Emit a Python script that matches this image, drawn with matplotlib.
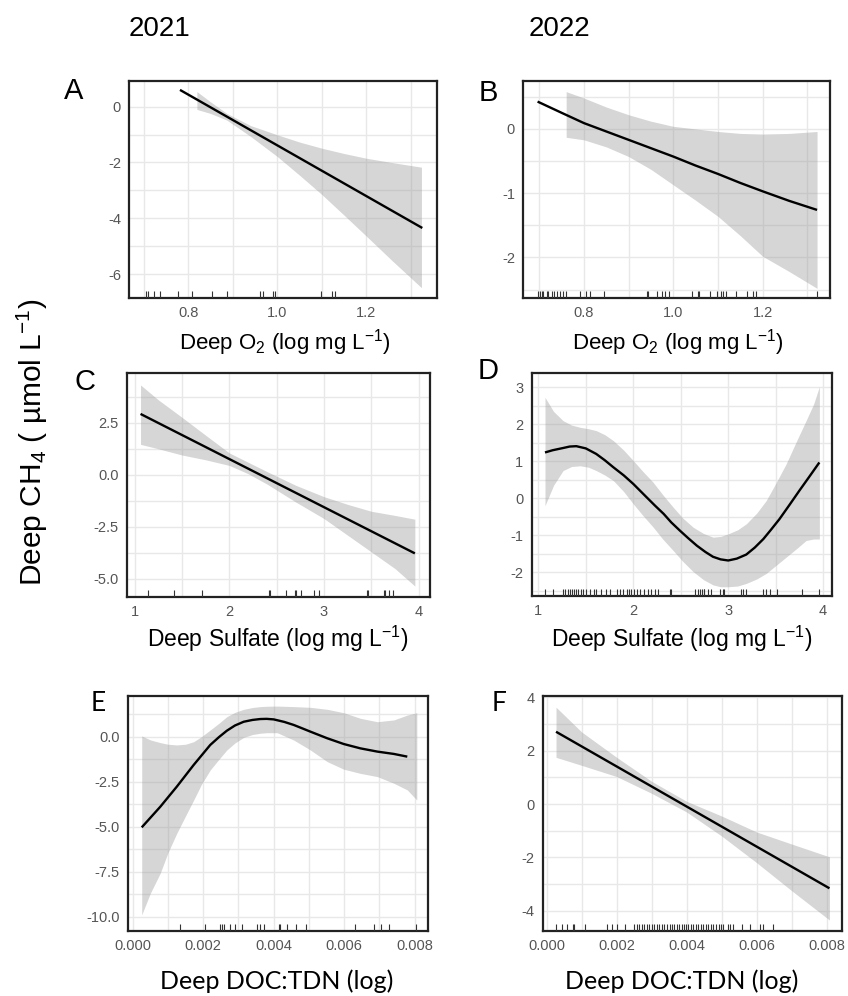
import matplotlib
matplotlib.use("Agg")
import matplotlib.pyplot as plt

plt.rcParams['font.family'] = ['Liberation Sans', 'DejaVu Sans']
plt.rcParams['mathtext.fontset'] = 'custom'
plt.rcParams['mathtext.rm'] = 'Liberation Sans'
plt.rcParams['mathtext.it'] = 'Liberation Sans:italic'

# ---- Panel A: 2021, Deep O2 ----
a_line_x = [0.781, 1.326]
a_line_y = [0.60, -4.35]
a_band_x = [0.819, 0.849, 0.886, 0.94, 1.0, 1.05, 1.1, 1.15, 1.2, 1.26, 1.324]
a_band_hi = [0.54, 0.18, -0.24, -0.68, -1.01, -1.27, -1.49, -1.68, -1.85, -2.01, -2.17]
a_band_lo = [-0.10, -0.24, -0.48, -1.07, -1.79, -2.46, -3.15, -3.89, -4.64, -5.55, -6.49]
a_rug = [0.705, 0.708, 0.723, 0.736, 0.776, 0.808, 0.853, 0.886, 0.960, 0.967,
         0.991, 0.995, 1.097, 1.122, 1.130]

# ---- Panel B: 2022, Deep O2 ----
b_line_x = [0.696, 0.75, 0.8, 0.85, 0.9, 0.95, 1.0, 1.05, 1.1, 1.15, 1.2, 1.26, 1.322]
b_line_y = [0.425, 0.25, 0.09, -0.04, -0.17, -0.30, -0.43, -0.57, -0.70, -0.84,
            -0.97, -1.12, -1.26]
b_band_x = [0.760, 0.8, 0.85, 0.9, 0.95, 1.0, 1.05, 1.1, 1.15, 1.2, 1.26, 1.322]
b_band_hi = [0.58, 0.48, 0.34, 0.22, 0.12, 0.04, 0.0, -0.04, -0.07, -0.08, -0.07, -0.04]
b_band_lo = [-0.13, -0.17, -0.28, -0.43, -0.63, -0.87, -1.11, -1.36, -1.66, -1.98,
             -2.22, -2.48]
b_rug = [0.698, 0.701, 0.705, 0.709, 0.716, 0.720, 0.728, 0.733, 0.739, 0.746,
         0.754, 0.760, 0.790, 0.804, 0.813, 0.845, 0.942, 0.944, 0.963, 0.974,
         0.981, 0.991, 1.043, 1.056, 1.058, 1.082, 1.097, 1.106, 1.112, 1.119,
         1.140, 1.164, 1.178, 1.185, 1.322]

# ---- Panel C: 2021, Deep Sulfate ----
c_line_x = [1.063, 3.96]
c_line_y = [2.92, -3.77]
c_band_x = [1.063, 1.25, 1.5, 1.75, 2.0, 2.2, 2.4, 2.7, 3.0, 3.25, 3.5, 3.75, 3.96]
c_band_hi = [4.31, 3.60, 2.76, 1.90, 1.05, 0.60, 0.15, -0.50, -1.05, -1.42, -1.75,
             -1.95, -2.13]
c_band_lo = [1.46, 1.25, 0.95, 0.72, 0.45, 0.05, -0.45, -1.30, -2.10, -2.90, -3.70,
             -4.50, -5.34]
c_rug = [1.14, 1.42, 1.71, 2.42, 2.43, 2.60, 2.69, 2.71, 2.76, 2.90, 2.95,
         3.45, 3.47, 3.63, 3.65, 3.69, 3.73]

# ---- Panel D: 2022, Deep Sulfate ----
d_x = [1.07, 1.15, 1.26, 1.33, 1.40, 1.50, 1.61, 1.70, 1.79, 1.90, 2.0, 2.07,
       2.14, 2.23, 2.32, 2.40, 2.49, 2.58, 2.67, 2.76, 2.84, 2.92, 3.0, 3.09,
       3.19, 3.28, 3.37, 3.45, 3.54, 3.65, 3.75, 3.85, 3.96]
d_fit = [1.24, 1.30, 1.36, 1.40, 1.41, 1.35, 1.20, 1.03, 0.84, 0.62, 0.39, 0.21,
         0.03, -0.20, -0.42, -0.65, -0.87, -1.08, -1.28, -1.45, -1.58, -1.65,
         -1.68, -1.63, -1.52, -1.33, -1.10, -0.85, -0.56, -0.16, 0.21, 0.57, 0.97]
d_band_x = [1.07, 1.16, 1.26, 1.35, 1.44, 1.53, 1.61, 1.70, 1.79, 1.90, 2.0,
            2.10, 2.21, 2.31, 2.42, 2.52, 2.63, 2.74, 2.84, 2.92, 3.0, 3.10,
            3.19, 3.30, 3.40, 3.50, 3.61, 3.72, 3.82, 3.90, 3.96]
d_band_hi = [2.73, 2.35, 2.10, 1.98, 1.92, 1.88, 1.83, 1.72, 1.56, 1.30, 1.02,
             0.73, 0.43, 0.10, -0.24, -0.53, -0.78, -0.95, -1.05, -1.03, -0.96,
             -0.85, -0.69, -0.40, -0.06, 0.40, 0.93, 1.55, 2.10, 2.55, 3.02]
d_band_lo = [-0.20, 0.35, 0.75, 0.86, 0.88, 0.84, 0.75, 0.63, 0.48, 0.18, -0.15,
             -0.46, -0.78, -1.10, -1.41, -1.70, -1.98, -2.20, -2.34, -2.39, -2.39,
             -2.37, -2.30, -2.18, -2.03, -1.82, -1.59, -1.36, -1.14, -1.10, -1.10]
d_rug = [1.07, 1.15, 1.26, 1.28, 1.31, 1.33, 1.35, 1.38, 1.40, 1.42, 1.45, 1.47,
         1.50, 1.54, 1.59, 1.61, 1.66, 1.71, 1.75, 1.83, 1.86, 1.89, 1.93, 1.96,
         1.98, 2.01, 2.04, 2.07, 2.11, 2.15, 2.19, 2.23, 2.26, 2.39, 2.40, 2.65,
         2.68, 2.70, 2.72, 2.74, 2.75, 2.79, 2.82, 2.91, 2.94, 2.96, 3.13, 3.16,
         3.19, 3.37, 3.40, 3.44, 3.51, 3.78, 3.96]

# ---- Panel E: 2021, Deep DOC:TDN ----
e_x = [0.000256, 0.00078, 0.00125, 0.00173, 0.0022, 0.00245, 0.00267, 0.0029,
       0.00315, 0.0034, 0.00362, 0.0038, 0.0040, 0.0043, 0.00457, 0.0048,
       0.00504, 0.00552, 0.00599, 0.00646, 0.00694, 0.00741, 0.00779]
e_fit = [-5.04, -3.90, -2.78, -1.57, -0.46, -0.02, 0.33, 0.62, 0.83, 0.93, 0.98,
         0.99, 0.96, 0.82, 0.65, 0.47, 0.28, -0.09, -0.41, -0.65, -0.83, -0.96,
         -1.11]
e_band_x = [0.000256, 0.0005, 0.00078, 0.0010, 0.00125, 0.0015, 0.00173, 0.00195,
            0.0022, 0.00245, 0.00267, 0.0029, 0.00315, 0.0034, 0.00362, 0.0038,
            0.0041, 0.00457, 0.00504, 0.00552, 0.00599, 0.00646, 0.00694,
            0.00741, 0.00779, 0.00806]
e_band_hi = [0.04, -0.18, -0.33, -0.42, -0.46, -0.42, -0.28, 0.0, 0.37, 0.75,
             1.11, 1.35, 1.52, 1.62, 1.67, 1.69, 1.70, 1.67, 1.63, 1.52, 1.33,
             1.02, 0.83, 0.93, 1.20, 1.33]
e_band_lo = [-9.9, -8.7, -7.59, -6.45, -5.37, -4.40, -3.52, -2.65, -1.85, -1.25,
             -0.74, -0.35, -0.04, 0.12, 0.19, 0.22, 0.22, -0.19, -0.74, -1.39,
             -1.81, -2.04, -2.22, -2.59, -2.96, -3.52]
e_rug = [0.00133, 0.00206, 0.00248, 0.00253, 0.00258, 0.00277, 0.00291,
         0.00310, 0.00354, 0.00360, 0.00373, 0.00414, 0.00419, 0.00438,
         0.00462, 0.00493, 0.00632, 0.00684, 0.00703, 0.00727, 0.00803]

# ---- Panel F: 2022, Deep DOC:TDN ----
f_line_x = [0.000267, 0.00808]
f_line_y = [2.71, -3.16]
f_band_x = [0.000267, 0.001, 0.002, 0.003, 0.004, 0.005, 0.006, 0.007, 0.00808]
f_band_hi = [3.63, 2.70, 1.75, 0.85, 0.10, -0.45, -1.05, -1.50, -1.98]
f_band_lo = [1.75, 1.45, 1.03, 0.40, -0.30, -1.20, -2.20, -3.25, -4.35]
f_rug = [0.000267, 0.000429, 0.000571, 0.000762, 0.00079, 0.0011, 0.00171,
         0.00186, 0.0020, 0.00224, 0.00250, 0.00257, 0.00265, 0.00271, 0.00278,
         0.00286, 0.00293, 0.00300, 0.00307, 0.00314, 0.00322, 0.00329, 0.00335,
         0.00343, 0.00351, 0.00357, 0.00364, 0.00371, 0.00379, 0.00386, 0.00392,
         0.00398, 0.00405, 0.00411, 0.00419, 0.00427, 0.00433, 0.00440, 0.00448,
         0.00455, 0.00462, 0.00469, 0.00476, 0.00484, 0.00491, 0.00497, 0.00505,
         0.00519, 0.00524, 0.00533, 0.00557, 0.00581, 0.00610, 0.00619, 0.00648]

# tick labels
o2_xt = [0.8, 1.0, 1.2]
o2_xl = ['0.8', '1.0', '1.2']
su_xt = [1, 2, 3, 4]
su_xl = ['1', '2', '3', '4']
doc_xt = [0.0, 0.002, 0.004, 0.006, 0.008]
doc_xl = ['0.000', '0.002', '0.004', '0.006', '0.008']
a_yt, a_yl = [0, -2, -4, -6], ['0', '-2', '-4', '-6']
b_yt, b_yl = [0, -1, -2], ['0', '-1', '-2']
c_yt, c_yl = [2.5, 0, -2.5, -5], ['2.5', '0.0', '-2.5', '-5.0']
d_yt, d_yl = [3, 2, 1, 0, -1, -2], ['3', '2', '1', '0', '-1', '-2']
e_yt, e_yl = [0, -2.5, -5, -7.5, -10], ['0.0', '-2.5', '-5.0', '-7.5', '-10.0']
f_yt, f_yl = [4, 2, 0, -2, -4], ['4', '2', '0', '-2', '-4']

W, H = 848, 996
fig = plt.figure(figsize=(W / 100, H / 100), dpi=100)


def px_axes(left, right, top, bottom):
    return fig.add_axes([left / W, 1 - bottom / H, (right - left) / W, (bottom - top) / H])


def midpoints(ticks):
    step = ticks[1] - ticks[0]
    return [ticks[0] - 3 * step / 2 + k * step for k in range(len(ticks) + 3)]


def panel(ax, lx, ly, bx, lo, hi, rug, xt, xl, yt, yl, xlim, ylim):
    ax.set_facecolor('white')
    ax.set_xticks(xt)
    ax.set_xticklabels(xl)
    ax.set_yticks(yt)
    ax.set_yticklabels(yl)
    ax.set_xticks(midpoints(xt), minor=True)
    ax.set_yticks(midpoints(yt), minor=True)
    ax.grid(True, which='both', color='#e8e8e8', linewidth=1.0)
    ax.set_axisbelow(True)
    ax.fill_between(bx, lo, hi, color='#999999', alpha=0.4, linewidth=0, zorder=2)
    ax.plot(lx, ly, color='black', linewidth=1.7, zorder=3,
            solid_joinstyle='round', solid_capstyle='butt')
    ax.vlines(rug, 0, 0.03, transform=ax.get_xaxis_transform(),
              color='#333333', linewidth=0.8, zorder=3)
    ax.set_xlim(xlim)
    ax.set_ylim(ylim)
    ax.tick_params(which='both', length=0, labelsize=10.5, labelcolor='#555555', pad=6)
    for s in ax.spines.values():
        s.set_linewidth(1.6)
        s.set_color('#222222')


axA = px_axes(129.3, 437, 80.7, 298)
panel(axA, a_line_x, a_line_y, a_band_x, a_band_lo, a_band_hi, a_rug,
      o2_xt, o2_xl, a_yt, a_yl, (0.667, 1.359), (-6.86, 0.93))
axB = px_axes(523.3, 830, 80.7, 298)
panel(axB, b_line_x, b_line_y, b_band_x, b_band_lo, b_band_hi, b_rug,
      o2_xt, o2_xl, b_yt, b_yl, (0.664, 1.351), (-2.63, 0.75))
axC = px_axes(127, 430, 373.3, 596.7)
panel(axC, c_line_x, c_line_y, c_band_x, c_band_lo, c_band_hi, c_rug,
      su_xt, su_xl, c_yt, c_yl, (0.92, 4.12), (-5.85, 4.87))
axD = px_axes(531.7, 831.7, 373.3, 596)
panel(axD, d_x, d_fit, d_band_x, d_band_lo, d_band_hi, d_rug,
      su_xt, su_xl, d_yt, d_yl, (0.93, 4.09), (-2.64, 3.38))
axE = px_axes(128.3, 428.3, 696, 931)
panel(axE, e_x, e_fit, e_band_x, e_band_lo, e_band_hi, e_rug,
      doc_xt, doc_xl, e_yt, e_yl, (-0.000125, 0.008386), (-10.8, 2.26))
axF = px_axes(542.7, 841.7, 696, 930.7)
panel(axF, f_line_x, f_line_y, f_band_x, f_band_lo, f_band_hi, f_rug,
      doc_xt, doc_xl, f_yt, f_yl, (-0.000114, 0.00843), (-4.75, 4.05))


def txt(x, y, s, **kw):
    fig.text(x / W, 1 - y / H, s, ha='center', va='center', **kw)


# column headers
txt(160, 29, '2021', fontsize=20)
txt(559, 29, '2022', fontsize=20)

# panel letters
txt(74, 91, 'A', fontsize=21)
txt(488, 93, 'B', fontsize=21)
txt(85, 382, 'C', fontsize=21)
txt(488, 371, 'D', fontsize=21)
txt(98, 703, 'E', fontsize=19, family=['Lato', 'DejaVu Sans'])
txt(499, 703, 'F', fontsize=19, family=['Lato', 'DejaVu Sans'])

# axis titles
o2_lab = 'Deep O$_2$ (log mg L$^{-1}$)'
su_lab = 'Deep Sulfate (log mg L$^{-1}$)'
doc_lab = 'Deep DOC:TDN (log)'
txt(285, 343, o2_lab, fontsize=16)
txt(678, 343, o2_lab, fontsize=16)
txt(278, 639, su_lab, fontsize=16.5)
txt(682, 639, su_lab, fontsize=16.5)
txt(277, 981, doc_lab, fontsize=18, family=['Lato', 'DejaVu Sans'])
txt(682, 981, doc_lab, fontsize=18, family=['Lato', 'DejaVu Sans'])

# shared y title
txt(32, 442, 'Deep CH$_4$ ( µmol L$^{-1}$)', fontsize=21.5, rotation=90)

fig.savefig('out.png', dpi=100, facecolor='white')
